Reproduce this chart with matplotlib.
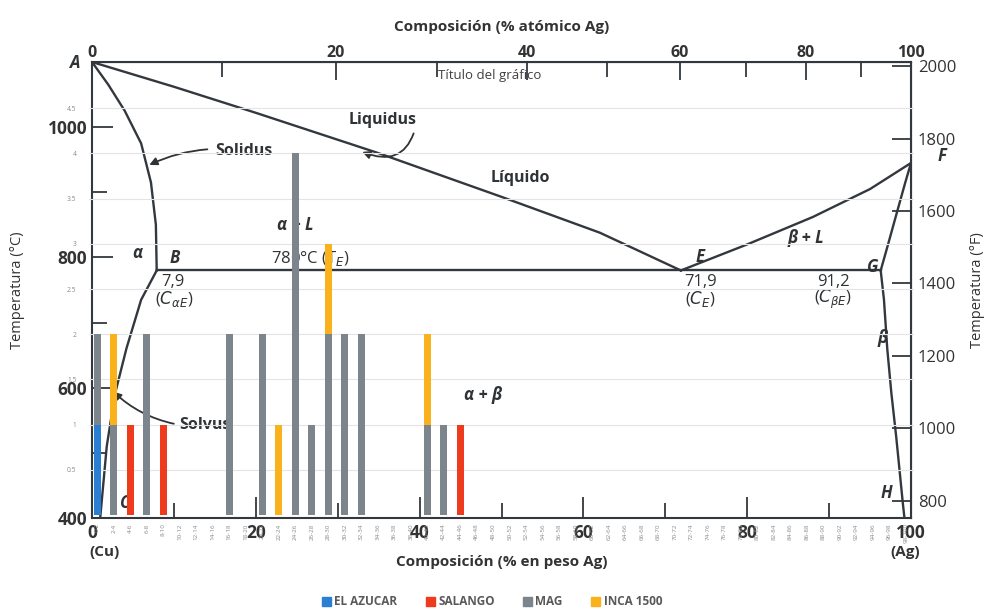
import numpy as np
import matplotlib.pyplot as plt
from matplotlib.patches import Patch
from matplotlib.ticker import FuncFormatter

plt.rcParams['font.family'] = ['Open Sans', 'DejaVu Sans']

# bar chart data (sample counts per composition range)
categories = ["0-2", "2-4", "4-6", "6-8", "8-10", "10-12", "12-14", "14-16", "16-18", "18-20",
              "20-22", "22-24", "24-26", "26-28", "28-30", "30-32", "32-34", "34-36", "36-38", "38-40",
              "40-42", "42-44", "44-46", "46-48", "48-50", "50-52", "52-54", "54-56", "56-58", "58-60",
              "60-62", "62-64", "64-66", "66-68", "68-70", "70-72", "72-74", "74-76", "76-78", "78-80",
              "80-82", "82-84", "84-86", "86-88", "88-90", "90-92", "92-94", "94-96", "96-98", "98-100"]
el_azucar = [1, 0, 0, 0, 0, 0, 0, 0, 0, 0,
             0, 0, 0, 0, 0, 0, 0, 0, 0, 0,
             0, 0, 0, 0, 0, 0, 0, 0, 0, 0,
             0, 0, 0, 0, 0, 0, 0, 0, 0, 0,
             0, 0, 0, 0, 0, 0, 0, 0, 0, 0]
salango = [0, 0, 1, 0, 1, 0, 0, 0, 0, 0,
           0, 0, 0, 0, 0, 0, 0, 0, 0, 0,
           0, 0, 1, 0, 0, 0, 0, 0, 0, 0,
           0, 0, 0, 0, 0, 0, 0, 0, 0, 0,
           0, 0, 0, 0, 0, 0, 0, 0, 0, 0]
mag = [1, 1, 0, 2, 0, 0, 0, 0, 2, 0,
       2, 0, 4, 1, 2, 2, 2, 0, 0, 0,
       1, 1, 0, 0, 0, 0, 0, 0, 0, 0,
       0, 0, 0, 0, 0, 0, 0, 0, 0, 0,
       0, 0, 0, 0, 0, 0, 0, 0, 0, 0]
inca_1500 = [0, 1, 0, 0, 0, 0, 0, 0, 0, 0,
             0, 1, 0, 0, 1, 0, 0, 0, 0, 0,
             1, 0, 0, 0, 0, 0, 0, 0, 0, 0,
             0, 0, 0, 0, 0, 0, 0, 0, 0, 0,
             0, 0, 0, 0, 0, 0, 0, 0, 0, 0]

# Cu-Ag phase diagram curves (wt% Ag, degC)
liq_left_w = [0, 10, 20, 35, 50, 62, 71.9]
liq_left_t = [1100, 1062, 1022, 960, 893, 838, 780]
liq_right_w = [71.9, 80, 88, 95, 100]
liq_right_t = [780, 820, 862, 905, 945]
sol_left_w = [0, 2, 4, 6, 7.2, 7.8, 7.9]
sol_left_t = [1100, 1065, 1025, 975, 915, 850, 780]
sol_right_w = [96.3, 97.2, 98.3, 99.3, 100]
sol_right_t = [780, 820, 870, 915, 945]
solvus_left_w = [7.9, 6.0, 4.2, 2.8, 1.8, 1.0]
solvus_left_t = [780, 735, 660, 590, 510, 400]
solvus_right_w = [96.3, 96.7, 97.1, 97.6, 98.2, 99.0, 99.2]
solvus_right_t = [780, 735, 660, 592, 524, 423, 400]
eutectic_w = [7.9, 96.3]
eutectic_t = [780, 780]

colors = {'EL AZUCAR': '#2b7fd2', 'SALANGO': '#ee3a1d', 'MAG': '#7c848c', 'INCA 1500': '#f9b21c'}
line_col = '#33383e'


def wt_to_at(w):
    w = np.asarray(w, dtype=float)
    a = w / 107.87
    b = (100 - w) / 63.55
    return 100 * a / (a + b)


def at_to_wt(a):
    a = np.asarray(a, dtype=float)
    m = a * 107.87
    n = (100 - a) * 63.55
    return 100 * m / (m + n)


fig = plt.figure(figsize=(10.04, 6.08), dpi=100)

# phase diagram
ax = fig.add_axes([92 / 1004, 90 / 608, 819 / 1004, 456 / 608])
ax.set_xlim(0, 100)
ax.set_ylim(400, 1100)
for w, t in [(liq_left_w, liq_left_t), (liq_right_w, liq_right_t), (sol_left_w, sol_left_t),
             (sol_right_w, sol_right_t), (solvus_left_w, solvus_left_t),
             (solvus_right_w, solvus_right_t), (eutectic_w, eutectic_t)]:
    ax.plot(w, t, color=line_col, lw=1.7)
for s in ax.spines.values():
    s.set_color(line_col)
    s.set_linewidth(1.5)

ax.set_xticks([0, 20, 40, 60, 80, 100])
ax.set_xticks([10, 30, 50, 70, 90], minor=True)
ax.set_yticks([400, 600, 800, 1000])
ax.set_yticks([500, 700, 900], minor=True)
ax.tick_params(which='both', direction='in', color=line_col, width=1.3, labelsize=12.5, labelcolor='#333')
ax.tick_params(which='major', length=15)
ax.tick_params(which='minor', length=11)
ax.tick_params(axis='x', pad=4)
for lab in ax.get_xticklabels() + ax.get_yticklabels():
    lab.set_fontweight('bold')
ax.set_ylabel("Temperatura (°C)", fontsize=10.5, color='#333', labelpad=16)
ax.set_xlabel("Composición (% en peso Ag)", fontsize=11, fontweight='bold', color='#333', labelpad=10)

top = ax.secondary_xaxis('top', functions=(wt_to_at, at_to_wt))
top.set_xticks([0, 20, 40, 60, 80, 100])
top.set_xticks([10, 30, 50, 70, 90], minor=True)
top.tick_params(which='both', direction='in', color=line_col, width=1.3, labelsize=11.5, labelcolor='#333', pad=1)
top.tick_params(which='major', length=13)
top.tick_params(which='minor', length=11)
for lab in top.get_xticklabels():
    lab.set_fontweight('bold')
top.set_xlabel("Composición (% atómico Ag)", fontsize=11, fontweight='bold', color='#333', labelpad=10)

right = ax.secondary_yaxis('right', functions=(lambda c: c * 9 / 5 + 32, lambda f: (f - 32) * 5 / 9))
right.set_yticks([800, 1000, 1200, 1400, 1600, 1800, 2000])
right.tick_params(direction='in', length=14, width=1.3, color=line_col, labelsize=12, labelcolor='#333', pad=5)
right.set_ylabel("Temperatura (°F)", fontsize=10.5, color='#333', labelpad=10)

# labels on the diagram
txt = dict(color='#2f3336', ha='center', va='center')
gk = dict(color='#2f3336', ha='center', va='center', fontsize=12, fontweight='bold', fontstyle='italic')
ax.text(-2.1, 1098, "A", **gk)
ax.text(103.8, 955, "F", **gk)
ax.text(10.1, 799, "B", **gk)
ax.text(74.3, 801, "E", **gk)
ax.text(95.3, 786, "G", **gk)
ax.text(4.0, 423, "C", **gk)
ax.text(97.0, 438, "H", **gk)
ax.text(5.5, 807, "α", **gk)
ax.text(96.5, 676, "β", **gk)
ax.text(24.8, 850, "α + L", **gk)
ax.text(87.2, 830, "β + L", **gk)
ax.text(47.8, 589, "α + β", **gk)
ax.text(52.3, 922, "Líquido", fontsize=11.5, fontweight='bold', **txt)
ax.text(26.7, 799, "780°C (T$_E$)", fontsize=12, **txt)
ax.text(9.9, 762, "7,9", fontsize=12, **txt)
ax.text(10.0, 736, r"($C_{\alpha E}$)", fontsize=12, **txt)
ax.text(74.3, 762, "71,9", fontsize=12, **txt)
ax.text(74.3, 736, r"($C_E$)", fontsize=12, **txt)
ax.text(90.5, 762, "91,2", fontsize=12, **txt)
ax.text(90.5, 736, r"($C_{\beta E}$)", fontsize=12, **txt)
ax.annotate("Solidus", xy=(7.0, 942), xytext=(18.6, 964), fontsize=11.5, fontweight='bold',
            arrowprops=dict(arrowstyle='-|>', color='#2f3336', lw=1.3, connectionstyle='arc3,rad=0.15',
                            shrinkA=4, shrinkB=0), **txt)
ax.annotate("Liquidus", xy=(33.0, 962), xytext=(35.5, 1011), fontsize=11.5, fontweight='bold',
            arrowprops=dict(arrowstyle='-|>', color='#2f3336', lw=1.3, connectionstyle='arc3,rad=-0.6',
                            shrinkA=2, shrinkB=0, relpos=(1.0, 0.4)), **txt)
ax.annotate("Solvus", xy=(2.6, 594), xytext=(13.8, 543), fontsize=11.5, fontweight='bold',
            arrowprops=dict(arrowstyle='-|>', color='#2f3336', lw=1.3, connectionstyle='arc3,rad=-0.15',
                            shrinkA=2, shrinkB=0, relpos=(0.0, 0.5)), **txt)
fig.text(105 / 1004, 1 - 552 / 608, "(Cu)", fontsize=11, fontweight='bold', color='#333', ha='center', va='center')
fig.text(905 / 1004, 1 - 552 / 608, "(Ag)", fontsize=11, fontweight='bold', color='#333', ha='center', va='center')

# stacked bar chart on top
bx = fig.add_axes([89 / 1004, 93 / 608, 825 / 1004, 452 / 608])
bx.patch.set_alpha(0)
x = np.arange(len(categories))
bottom = np.zeros(len(categories))
for name, vals in [('EL AZUCAR', el_azucar), ('SALANGO', salango), ('MAG', mag), ('INCA 1500', inca_1500)]:
    v = np.array(vals, dtype=float)
    bx.bar(x, v, 0.42, bottom=bottom, color=colors[name], zorder=3)
    bottom += v
bx.set_xlim(-0.5, len(categories) - 0.5)
bx.set_ylim(0, 5)
bx.set_yticks(np.arange(0.5, 4.51, 0.5))
bx.yaxis.set_major_formatter(FuncFormatter(lambda v, p: f"{v:g}"))
bx.set_xticks(x)
bx.set_xticklabels(categories, rotation=90)
bx.tick_params(axis='y', length=0, labelsize=4.8, labelcolor='#8a8a8a', pad=9)
bx.tick_params(axis='x', length=0, labelsize=4.5, labelcolor='#8a8a8a', pad=6)
bx.yaxis.grid(True, color='#e4e4e4', lw=0.8, zorder=0)
for s in bx.spines.values():
    s.set_visible(False)

fig.text(490 / 1004, 1 - 76 / 608, "Título del gráfico", fontsize=9.5, color='#404040', ha='center', va='center')

handles = [Patch(color=c) for c in colors.values()]
fig.legend(handles, list(colors.keys()), loc='lower center', bbox_to_anchor=(0.49, -0.018), ncol=4,
           frameon=False, handlelength=0.75, handleheight=0.75, handletextpad=0.3,
           columnspacing=2.4, labelcolor='#595959', prop={'weight': 'bold', 'size': 8.5})

fig.savefig("out.png", dpi=100)
